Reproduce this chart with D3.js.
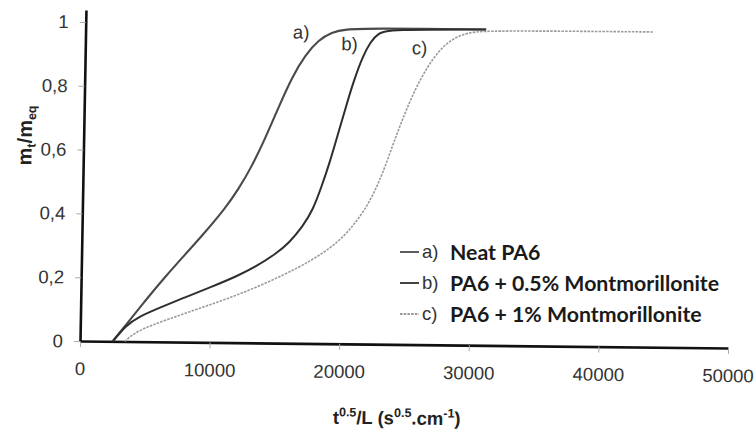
<!DOCTYPE html>
<html>
<head>
<meta charset="utf-8">
<script src="https://cdn.jsdelivr.net/npm/d3@7"></script>
<style>
  html, body { margin: 0; padding: 0; background: #fff; }
  svg { display: block; }
</style>
</head>
<body>
<svg id="chart" width="755" height="432"></svg>
<script>
// ---- data ----
const seriesNames = ["a)", "b)", "c)"];
const legendNames = ["Neat PA6", "PA6 + 0.5% Montmorillonite", "PA6 + 1% Montmorillonite"];
const xTicks = [0, 10000, 20000, 30000, 40000, 50000];
const yTicks = [0, 0.2, 0.4, 0.6, 0.8, 1];
const yTickLabels = ["0", "0,2", "0,4", "0,6", "0,8", "1"];

const seriesA = [
  [2500, 0], [3500, 0.05], [5000, 0.13], [6500, 0.205], [8000, 0.275], [9500, 0.345],
  [11000, 0.42], [12000, 0.48], [13000, 0.552], [14000, 0.64], [15000, 0.74],
  [16000, 0.835], [17000, 0.905], [18000, 0.952], [19000, 0.976], [20000, 0.986],
  [22000, 0.99], [30900, 0.99]
];
const seriesB = [
  [2550, 0], [3500, 0.05], [4500, 0.078], [6000, 0.105], [8000, 0.14], [10000, 0.173],
  [12000, 0.208], [13500, 0.24], [15000, 0.28], [16000, 0.315], [17000, 0.365],
  [17800, 0.42], [18400, 0.49], [19000, 0.565], [19600, 0.655], [20200, 0.745],
  [20800, 0.83], [21400, 0.9], [22000, 0.948], [22600, 0.975], [23400, 0.987],
  [30900, 0.99]
];
const seriesC = [
  [3450, 0], [4400, 0.035], [6700, 0.07], [9200, 0.107], [11700, 0.143], [14300, 0.188],
  [16800, 0.238], [18500, 0.28], [19800, 0.32], [20800, 0.365], [21700, 0.415],
  [22500, 0.475], [23200, 0.545], [23900, 0.63], [24700, 0.72], [25500, 0.8],
  [26400, 0.87], [27300, 0.923], [28300, 0.96], [29500, 0.98], [31000, 0.987],
  [43800, 0.988]
];
const seriesData = [seriesA, seriesB, seriesC];
const curveLabelPos = [[16000, 0.955], [19750, 0.92], [25200, 0.91]];

// ---- layout ----
const svg = d3.select("#chart");
const x = d3.scaleLinear().domain([0, 50000]).range([80, 728]);
const y = d3.scaleLinear().domain([0, 1.0376]).range([341, 10]);

const styles = [
  { stroke: "#4a4a4a", width: 2.1, dash: null },
  { stroke: "#2e2e2e", width: 2.0, dash: null },
  { stroke: "#9a9a9a", width: 1.6, dash: "2.5,1.2" }
];

// slight skew of the scanned figure
const g = svg.append("g")
  .attr("transform", "matrix(1,0.0108,-0.018,1,6.138,-0.864)");

// x axis
const xAxis = g.append("g")
  .attr("transform", `translate(0,${y(0)})`)
  .call(d3.axisBottom(x).tickValues(xTicks).tickFormat(d3.format("d")).tickSize(6).tickPadding(15).tickSizeOuter(0));
xAxis.select(".domain").attr("stroke", "#111").attr("stroke-width", 2.6);
xAxis.selectAll(".tick line").attr("stroke", "#aaa").attr("stroke-width", 1);
xAxis.selectAll(".tick text").attr("font-family", "Liberation Sans, Arial, sans-serif")
  .attr("font-size", 18.5).attr("fill", "#333");

// y axis
const yAxis = g.append("g")
  .attr("transform", `translate(${x(0)},0)`)
  .call(d3.axisLeft(y).tickValues(yTicks).tickFormat((d, i) => yTickLabels[i]).tickSize(6).tickPadding(11).tickSizeOuter(0));
yAxis.select(".domain").attr("stroke", "#111").attr("stroke-width", 2.6);
yAxis.selectAll(".tick line").attr("stroke", "#aaa").attr("stroke-width", 1);
yAxis.selectAll(".tick text").attr("font-family", "Liberation Sans, Arial, sans-serif")
  .attr("font-size", 18.5).attr("fill", "#333");

// lines
const line = d3.line().x(d => x(d[0])).y(d => y(d[1])).curve(d3.curveBasis);
seriesData.forEach((s, i) => {
  g.append("path")
    .datum(s)
    .attr("fill", "none")
    .attr("stroke", styles[i].stroke)
    .attr("stroke-width", styles[i].width)
    .attr("stroke-dasharray", styles[i].dash)
    .attr("stroke-linejoin", "round")
    .attr("d", line);
});

// curve labels
seriesNames.forEach((n, i) => {
  g.append("text")
    .attr("x", x(curveLabelPos[i][0]))
    .attr("y", y(curveLabelPos[i][1]))
    .attr("font-family", "Liberation Sans, Arial, sans-serif")
    .attr("font-size", 18.5).attr("fill", "#333")
    .text(n);
});

// x title
const xt = g.append("text")
  .attr("x", 398).attr("y", 421)
  .attr("text-anchor", "middle")
  .attr("font-family", "Liberation Sans, Arial, sans-serif")
  .attr("font-weight", "bold").attr("font-size", 18.5).attr("fill", "#222");
xt.append("tspan").text("t");
xt.append("tspan").attr("font-size", 12.5).attr("dy", -7.5).text("0.5");
xt.append("tspan").attr("dy", 7.5).text("/L (s");
xt.append("tspan").attr("font-size", 12.5).attr("dy", -7.5).text("0.5");
xt.append("tspan").attr("dy", 7.5).text(".cm");
xt.append("tspan").attr("font-size", 12.5).attr("dy", -7.5).text("-1");
xt.append("tspan").attr("dy", 7.5).text(")");

// y title
const yt = g.append("text")
  .attr("transform", "translate(28,136) rotate(-90)")
  .attr("text-anchor", "middle")
  .attr("font-family", "Liberation Sans, Arial, sans-serif")
  .attr("font-weight", "bold").attr("font-size", 20).attr("fill", "#222");
yt.append("tspan").text("m");
yt.append("tspan").attr("font-size", 12.5).attr("dy", 4).text("t");
yt.append("tspan").attr("dy", -4).text("/m");
yt.append("tspan").attr("font-size", 12.5).attr("dy", 4).text("eq");

// legend
const legendY = [252, 283, 314];
const lg = svg.append("g");
seriesNames.forEach((n, i) => {
  lg.append("line")
    .attr("x1", 400).attr("x2", 419)
    .attr("y1", legendY[i]).attr("y2", legendY[i])
    .attr("stroke", styles[i].stroke).attr("stroke-width", 1.8)
    .attr("stroke-dasharray", styles[i].dash);
  lg.append("text")
    .attr("x", 422).attr("y", legendY[i]).attr("dy", "0.35em")
    .attr("font-family", "Liberation Sans, Arial, sans-serif")
    .attr("font-size", 18.5).attr("fill", "#333")
    .text(n);
  lg.append("text")
    .attr("x", 450).attr("y", legendY[i]).attr("dy", "0.36em")
    .attr("font-family", "Lato, 'Open Sans', sans-serif")
    .attr("font-weight", "bold").attr("font-size", 21.3).attr("fill", "#1a1a1a")
    .text(legendNames[i]);
});
</script>
</body>
</html>
